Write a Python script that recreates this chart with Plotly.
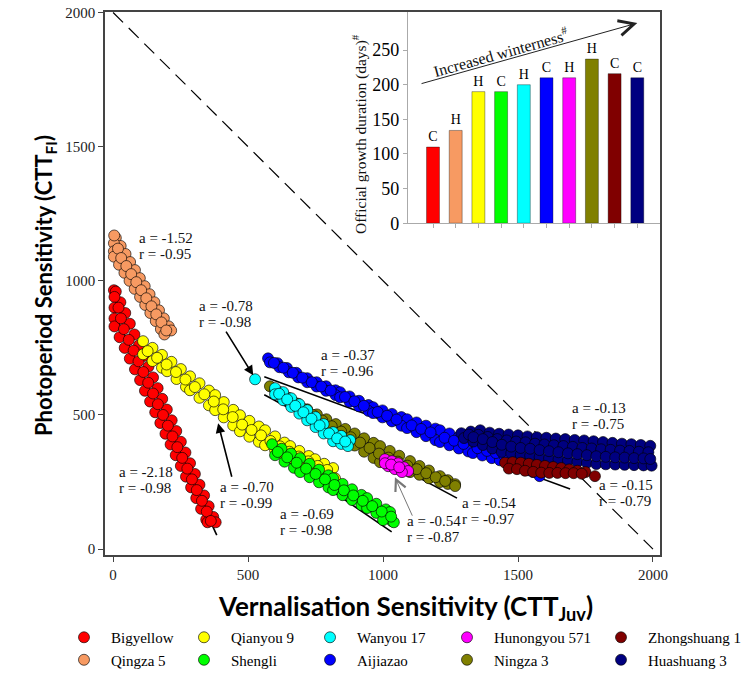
import plotly.graph_objects as go

# ---------------- main scatter data (CTT_Juv, CTT_FI) ----------------
bigyellow = [(3,965),(10,960),(27,920),(45,880),(62,840),(79,800),(96,760),(113,720),(131,680),(148,640),
             (165,600),(182,560),(199,520),(217,480),(234,440),(251,400),(268,360),(285,320),(303,280),
             (320,240),(337,200),(354,160),(371,120),(380,100),
             (5,940),(5,900),(5,860),(5,830),(24,790),(43,750),(62,710),(81,670),(100,630),(118,590),
             (137,550),(156,510),(175,470),(194,430),(213,390),(232,350),(251,310),(270,270),(289,230),
             (308,190),(326,150),(345,110),(350,100),
             (20,900),(29,860),(40,820),(58,780),(76,740),(94,700),(112,660),(130,620),(148,580),(166,540),
             (185,500),(203,460),(220,420),(238,380),(256,340),(275,300),(292,260),(310,220),(329,180),
             (347,140),(362,105)]
qingza5 = [(10,1160),(28,1130),(46,1100),(63,1070),(81,1040),(99,1010),(117,980),(135,950),(153,920),
           (170,890),(188,860),(206,830),(215,815),
           (3,1140),(3,1110),(3,1090),(22,1060),(42,1030),(61,1000),(80,970),(100,940),(119,910),
           (138,880),(158,850),(177,820),(190,800),
           (4,1169),(18,1120),(30,1085),(49,1055),(67,1025),(86,995),(104,965),(123,935),(142,905),
           (160,875),(179,845),(197,815)]
qianyou9 = [(111,775),(146,750),(181,724),(216,698),(251,671),(285,644),(320,618),(355,591),(378,574),
            (410,548),(445,519),(470,499),(505,478),(540,457),(563,443),(600,420),(635,397),(656,384),
            (690,366),(725,347),(748,335),(782,318),(815,302),
            (111,726),(146,701),(181,676),(200,663),(235,634),(270,605),(285,592),(320,564),(355,536),
            (378,518),(410,491),(445,461),(470,439),(505,419),(540,400),(563,387),(600,368),(635,350),
            (656,339),(690,322),(725,305),(748,294),(785,279),(822,264),
            (128,738),(163,713),(198,688),(233,660),(268,632),(303,604),(338,577),(373,550),(408,521),
            (443,492),(478,464),(513,444),(548,424),(583,403),(618,383),(653,363),(688,345),(723,327),
            (758,310),(793,295)]
shengli = [(589,391),(624,374),(659,356),(693,339),(728,318),(763,296),(798,275),(815,264),(850,243),
           (885,223),(920,202),(941,190),(975,169),(1010,148),(1026,138),
           (600,350),(635,326),(670,303),(693,287),(728,268),(763,249),(798,230),(815,220),(850,201),
           (885,183),(920,164),(941,153),(975,135),(1010,116),(1033,104),(1000,108),(1040,100),
           (610,362),(645,342),(680,322),(715,300),(750,280),(785,260),(820,239),(855,219),(890,200),
           (925,180),(960,160),(995,140),(1030,121)]
wanyou17 = [(526,633),
            (600,600),(630,585),(660,562),(690,540),(719,518),(750,492),(780,466),(815,436),(845,422),(878,406),
            (600,577),(630,555),(660,530),(690,505),(719,480),(750,455),(780,431),(815,402),(845,392),(870,384),
            (615,579),(645,558),(675,534),(705,510),(735,486),(765,461),(800,431),(830,413),(860,401)]
aijiazao = [(574,711),(609,693),(644,675),(679,657),(719,637),(754,622),(789,607),(824,592),(841,585),
            (876,569),(911,553),(946,537),(963,529),(998,517),(1033,504),(1068,492),(1089,484),(1124,472),
            (1159,460),(1194,449),(1211,443),(1246,431),(1281,419),(1316,408),(1333,402),(1368,393),
            (1403,384),(1433,376),(1468,360),(1503,344),(1538,328),(1556,320),
            (581,696),(616,678),(651,659),(686,640),(719,622),(754,606),(789,590),(824,574),(841,566),
            (876,549),(911,532),(946,515),(963,507),(998,491),(1033,476),(1068,460),(1089,451),(1124,436),
            (1159,421),(1194,406),(1211,399),(1246,387),(1281,375),(1316,364),(1333,358),(1368,349),
            (1403,339),(1433,331),(1468,319),(1503,306),(1538,294),(1556,287),(1580,272),
            (596,694),(631,676),(666,657),(701,639),(736,622),(771,606),(806,591),(859,567),(894,551),
            (929,534),(980,511),(1015,497),(1050,483),(1106,461),(1141,448),(1176,435),(1228,415),
            (1263,404),(1298,392),(1350,376),(1385,366),(1418,358),(1450,347),(1485,332),(1520,318)]
ningza3 = [(581,607),(615,586),(650,564),(685,542),(719,521),(755,502),(790,484),(825,466),(860,448),
           (895,431),(930,413),(965,396),(989,384),(1025,366),(1060,348),(1100,328),(1135,310),(1170,293),
           (1211,272),(1240,257),(1267,242),
           (600,592),(635,566),(670,540),(700,517),(719,503),(755,479),(790,456),(825,433),(860,410),
           (895,386),(930,363),(965,340),(989,324),(1025,312),(1060,300),(1100,287),(1135,277),(1170,264),
           (1211,250),(1240,243),(1267,235),
           (670,547),(705,522),(740,500),(775,479),(810,458),(845,438),(880,417),(915,397),(950,377),
           (985,356),(1020,341),(1055,326),(1090,311),(1125,298),(1160,283),(1195,268),(1230,254)]
hunongyou571 = [(1007,335),(1033,328),(1056,320),(1078,305),(1093,291),(1019,309),(1044,298),(1070,287),
                (1007,320),(1030,315),(1060,305)]
zhongshuang1 = [(1452,322),(1480,324),(1510,322),(1540,318),(1570,314),(1600,310),(1630,306),(1660,302),
                (1690,297),(1720,292),(1750,287),(1785,272),
                (1466,300),(1496,298),(1526,292),(1556,288),(1586,285),(1616,284),(1646,284),(1676,283),
                (1706,283),(1736,281)]
huashuang3 = [(1290,432),(1325,438),(1360,443),(1395,434),(1430,430),(1465,427),(1500,424),(1535,420),
              (1570,417),(1605,415),(1640,412),(1675,410),(1710,407),(1745,405),(1780,402),(1815,399),
              (1850,396),(1885,393),(1920,391),(1955,388),(1990,385),
              (1300,414),(1335,401),(1370,388),(1405,375),(1440,362),(1475,357),(1510,352),(1545,348),
              (1580,343),(1615,339),(1650,334),(1685,330),(1720,325),(1755,321),(1790,317),(1825,316),
              (1860,315),(1895,314),(1930,313),(1965,312),(1995,311),
              (1318,427),(1353,426),(1388,418),(1423,410),(1458,405),(1493,401),(1528,398),(1563,393),
              (1598,390),(1633,387),(1668,384),(1703,381),(1738,377),(1773,375),(1808,372),(1843,370),
              (1878,367),(1913,366),(1948,363),(1983,361),
              (1335,417),(1370,410),(1405,399),(1440,389),(1475,382),(1510,377),(1545,374),(1580,369),
              (1615,365),(1650,361),(1685,357),(1720,354),(1755,350),(1790,346),(1825,344),(1860,342),
              (1895,341),(1930,339),(1965,338),(1990,336)]

cultivar_points = {
    "Bigyellow": bigyellow, "Qingza 5": qingza5, "Qianyou 9": qianyou9, "Shengli": shengli,
    "Wanyou 17": wanyou17, "Aijiazao": aijiazao, "Hunongyou 571": hunongyou571, "Ningza 3": ningza3,
    "Zhongshuang 1": zhongshuang1, "Huashuang 3": huashuang3,
}
cultivar_colors = {
    "Bigyellow": "#FF0000", "Qingza 5": "#F79A62", "Qianyou 9": "#FFFF00", "Shengli": "#00FF00",
    "Wanyou 17": "#00FFFF", "Aijiazao": "#0000FF", "Hunongyou 571": "#FF00FF", "Ningza 3": "#808000",
    "Zhongshuang 1": "#800000", "Huashuang 3": "#000080",
}
draw_order = ["Bigyellow", "Qingza 5", "Qianyou 9", "Shengli", "Aijiazao", "Ningza 3", "Wanyou 17",
              "Hunongyou 571", "Huashuang 3", "Zhongshuang 1"]
# legend layout: column (1..5) and row (1..2)
legend_col = {"Bigyellow": 1, "Qingza 5": 1, "Qianyou 9": 2, "Shengli": 2, "Wanyou 17": 3, "Aijiazao": 3,
              "Hunongyou 571": 4, "Ningza 3": 4, "Zhongshuang 1": 5, "Huashuang 3": 5}
legend_row = {"Bigyellow": 1, "Qingza 5": 2, "Qianyou 9": 1, "Shengli": 2, "Wanyou 17": 1, "Aijiazao": 2,
              "Hunongyou 571": 1, "Ningza 3": 2, "Zhongshuang 1": 1, "Huashuang 3": 2}

# regression lines (slope a, intercept b, x extent)
fit_a = [-2.18, -0.69, -0.37, -0.54]
fit_b = [889, 776, 850, 878]
fit_x0 = [0, 590, 560, 560]
fit_x1 = [384, 1032, 1693, 1274]

# 1:1 reference line
diag_x = [0, 2000]
diag_y = [2000, 0]

# slope / correlation labels
label_a = ["a = -1.52", "a = -0.78", "a = -0.37", "a = -2.18", "a = -0.70", "a = -0.69",
           "a = -0.54", "a = -0.54", "a = -0.13", "a = -0.15"]
label_r = ["r = -0.95", "r = -0.98", "r = -0.96", "r = -0.98", "r = -0.99", "r = -0.98",
           "r = -0.87", "r = -0.97", "r = -0.75", "r = -0.79"]
label_x = [89, 311, 763, 15, 389, 611, 1081, 1285, 1693, 1793]
label_y = [1130, 877, 695, 257, 203, 102, 74, 142, 495, 209]

# pointer arrows (head, tail)
arrow_head_x = [519, 389, 1044]
arrow_head_y = [648, 469, 268]
arrow_tail_x = [415, 441, 1111]
arrow_tail_y = [816, 264, 119]
arrow_color = ["black", "black", "#777777"]
arrow_width = [1.6, 1.6, 1.0]
arrow_style = [2, 2, 5]

# inset: official growth duration
inset_cultivars = ["Bigyellow", "Qingza 5", "Qianyou 9", "Shengli", "Wanyou 17", "Aijiazao",
                   "Hunongyou 571", "Ningza 3", "Zhongshuang 1", "Huashuang 3"]
durations = [110, 134, 190, 190, 200, 210, 210, 237, 216, 210]
habit = ["C", "H", "H", "C", "H", "C", "H", "H", "C", "C"]
winter_arrow_tail = (-0.57, 201)
winter_arrow_head = (9.0, 289)

SERIF = "Liberation Serif, Times New Roman, serif"
SANS_B = "Lato, Open Sans, sans-serif"

fig = go.Figure()

# dashed 1:1 line
fig.add_trace(go.Scatter(x=diag_x, y=diag_y, mode="lines", showlegend=False, hoverinfo="skip",
                         line=dict(color="black", width=1.2, dash="14px,8px")))

# regression lines
for a, b, x0, x1 in zip(fit_a, fit_b, fit_x0, fit_x1):
    fig.add_trace(go.Scatter(x=[x0, x1], y=[a * x0 + b, a * x1 + b], mode="lines", showlegend=False,
                             hoverinfo="skip", line=dict(color="black", width=1.6)))

legend_names = {1: "legend", 2: "legend2", 3: "legend3", 4: "legend4", 5: "legend5"}
for name in draw_order:
    pts = cultivar_points[name]
    fig.add_trace(go.Scatter(
        x=[p[0] for p in pts], y=[p[1] for p in pts], mode="markers", name=name,
        legend=legend_names[legend_col[name]], legendrank=legend_row[name],
        marker=dict(size=11, color=cultivar_colors[name],
                    line=dict(color="rgba(0,0,0,0.8)", width=0.8)),
    ))

# inset bars
fig.add_trace(go.Bar(
    x=list(range(len(durations))), y=durations, xaxis="x2", yaxis="y2", showlegend=False,
    marker=dict(color=[cultivar_colors[c] for c in inset_cultivars],
                line=dict(color="rgba(0,0,0,0.35)", width=1)),
    width=0.57, text=habit, textposition="outside", cliponaxis=False,
    textfont=dict(family=SERIF, size=14, color="black"),
))

annotations = []
for ta, tr, x, y in zip(label_a, label_r, label_x, label_y):
    annotations.append(dict(x=x, y=y, xref="x", yref="y", text=ta, showarrow=False, xanchor="left",
                            yanchor="middle", yshift=8, font=dict(family=SERIF, size=15, color="#111")))
    annotations.append(dict(x=x, y=y, xref="x", yref="y", text=tr, showarrow=False, xanchor="left",
                            yanchor="middle", yshift=-8, font=dict(family=SERIF, size=15, color="#111")))
for hx, hy, tx, ty, c, w, s in zip(arrow_head_x, arrow_head_y, arrow_tail_x, arrow_tail_y,
                                   arrow_color, arrow_width, arrow_style):
    annotations.append(dict(x=hx, y=hy, ax=tx, ay=ty, xref="x", yref="y", axref="x", ayref="y", text="",
                            showarrow=True, arrowhead=s, arrowsize=1.2 if s == 2 else 2.2,
                            arrowwidth=w, arrowcolor=c))
# winterness arrow + text
annotations.append(dict(x=winter_arrow_head[0], y=winter_arrow_head[1], ax=winter_arrow_tail[0],
                        ay=winter_arrow_tail[1], xref="x2", yref="y2", axref="x2", ayref="y2", text="",
                        showarrow=True, arrowhead=5, arrowsize=3, arrowwidth=1, arrowcolor="#222"))
annotations.append(dict(x=0.7135, y=0.9263, xref="paper", yref="paper", xanchor="center", yanchor="middle",
                        text="Increased winterness<sup>#</sup>",
                        showarrow=False, textangle=-15.6, font=dict(family=SERIF, size=16, color="#111")))
annotations.append(dict(x=0.4577, y=0.7753, xref="paper", yref="paper", xanchor="center", yanchor="middle",
                        text="Official growth duration (days)<sup>#</sup>", showarrow=False, textangle=-90,
                        font=dict(family=SERIF, size=15.5, color="#111")))
# main axis titles
annotations.append(dict(x=-0.1081, y=0.4954, xref="paper", yref="paper", xanchor="center", yanchor="middle",
                        text="<b>Photoperiod Sensitivity (CTT<sub>FI</sub>)</b>", showarrow=False,
                        textangle=-90, font=dict(family=SANS_B, size=22, color="black")))
annotations.append(dict(x=0.541, y=-0.096, xref="paper", yref="paper", xanchor="center", yanchor="middle",
                        text="<b>Vernalisation Sensitivity (CTT<sub>Juv</sub>)</b>", showarrow=False,
                        font=dict(family=SANS_B, size=26, color="black")))

axis_common = dict(showgrid=False, zeroline=False, ticks="outside", ticklen=5, tickwidth=1.2,
                   tickcolor="#444", showline=True, linecolor="#444", linewidth=1.5, mirror=True,
                   tickfont=dict(family=SERIF, size=15, color="#222"))

leg_common = dict(xanchor="left", yanchor="top", orientation="v", bgcolor="rgba(0,0,0,0)",
                  font=dict(family=SERIF, size=15, color="black"), itemwidth=44, tracegroupgap=0,
                  traceorder="normal", borderwidth=0)
leg_x = [-0.0865, 0.1297, 0.3568, 0.6036, 0.8811]
leg_y = -0.1216

fig.update_layout(
    width=751, height=674, margin=dict(l=105, r=91, t=12, b=119, autoexpand=False),
    paper_bgcolor="white", plot_bgcolor="white",
    xaxis=dict(range=[-30, 2026], tickvals=[0, 500, 1000, 1500, 2000], **axis_common),
    yaxis=dict(range=[-22, 2002], tickvals=[0, 500, 1000, 1500, 2000], **axis_common),
    xaxis2=dict(domain=[0.546, 1.0], anchor="y2", range=[-1.1, 10.0], tickvals=list(range(10)),
                showticklabels=False, ticks="outside", ticklen=4, tickcolor="#aaa", showline=True,
                linecolor="#aaa", linewidth=1.2, showgrid=False, zeroline=False),
    yaxis2=dict(domain=[0.611, 1.0], anchor="x2", range=[0, 305], tickvals=[0, 50, 100, 150, 200, 250],
                ticks="outside", ticklen=4, tickcolor="#aaa", showline=True, linecolor="#aaa", linewidth=1.2,
                showgrid=False, zeroline=False, tickfont=dict(family=SERIF, size=18, color="black")),
    annotations=annotations,
    showlegend=True,
    legend=dict(x=leg_x[0], y=leg_y, **leg_common),
    legend2=dict(x=leg_x[1], y=leg_y, **leg_common),
    legend3=dict(x=leg_x[2], y=leg_y, **leg_common),
    legend4=dict(x=leg_x[3], y=leg_y, **leg_common),
    legend5=dict(x=leg_x[4], y=leg_y, **leg_common),
    bargap=0.4,
)

fig.write_html("out.html")
